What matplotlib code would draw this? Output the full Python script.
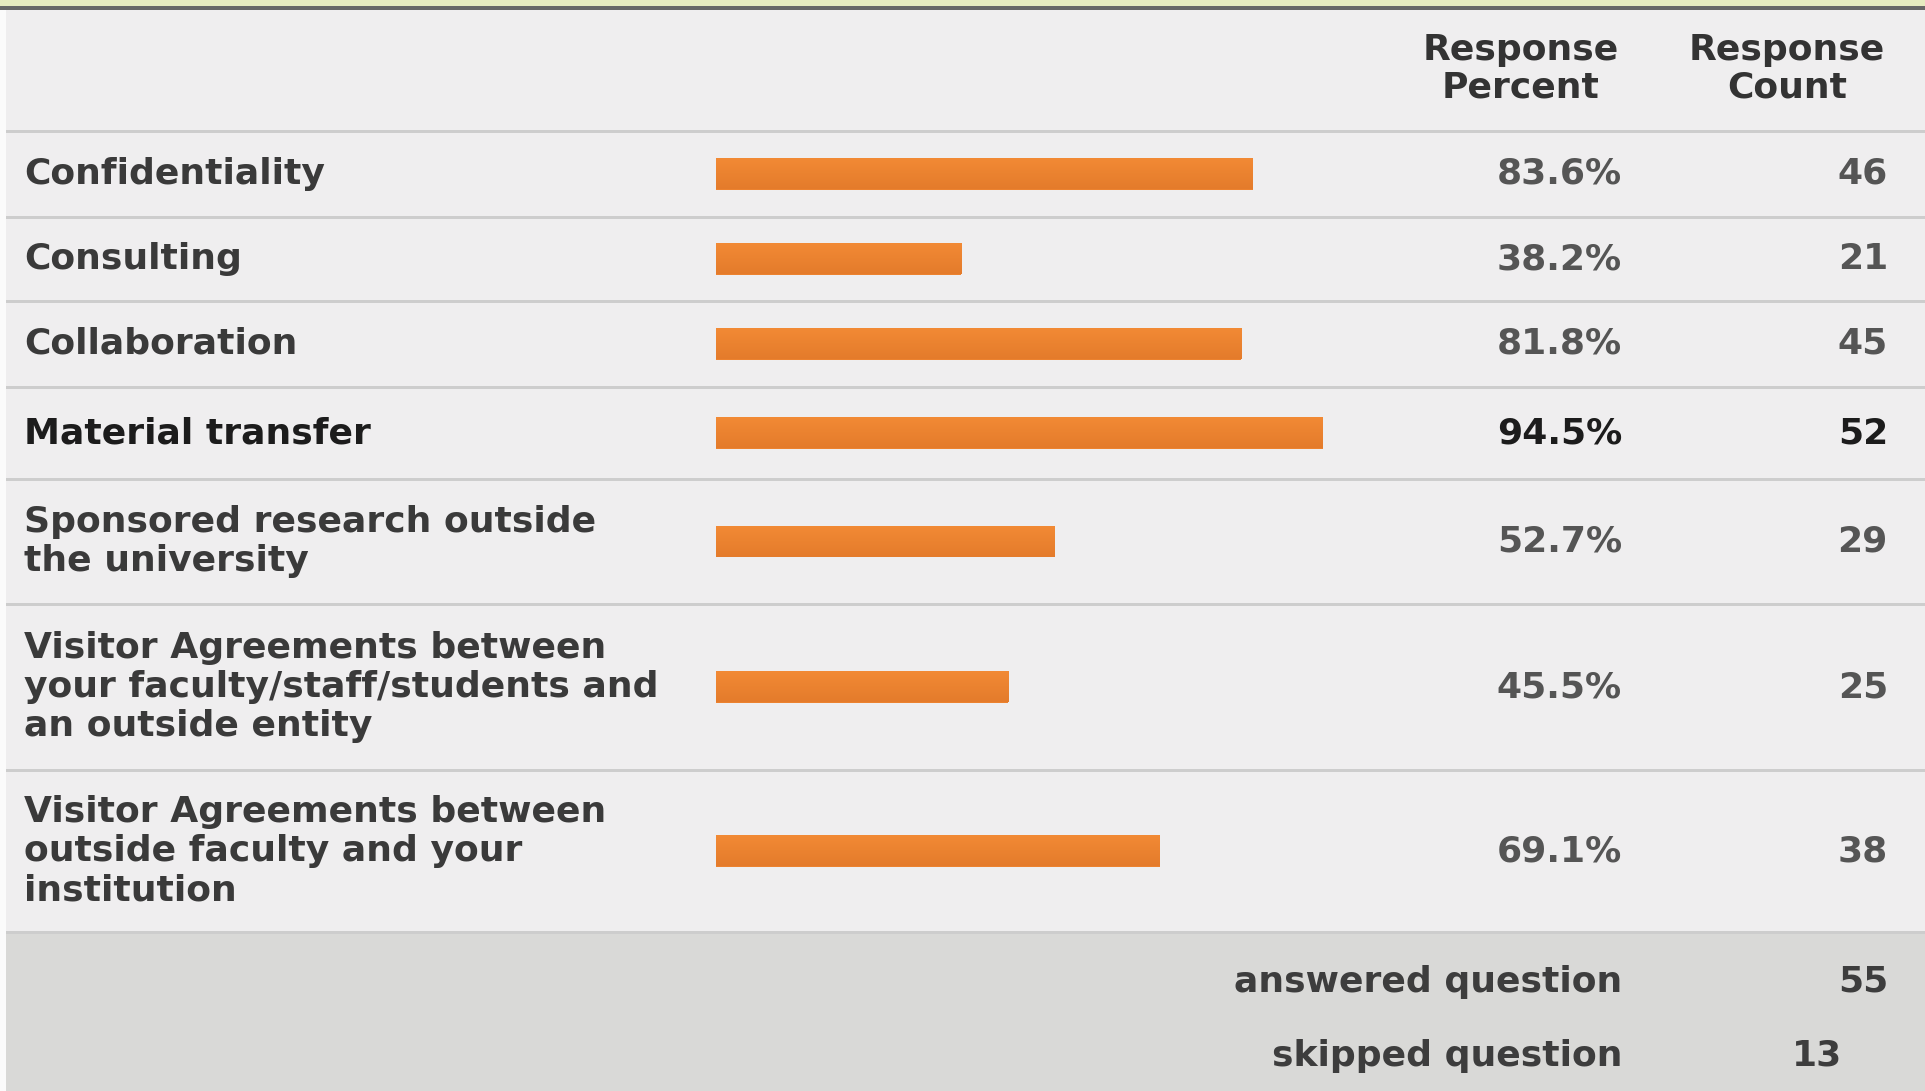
import matplotlib
matplotlib.use("Agg")
import matplotlib.pyplot as plt
import numpy as np
from matplotlib.patches import Rectangle
from matplotlib.colors import LinearSegmentedColormap

# ---------------- data ----------------
categories = [
    "Confidentiality",
    "Consulting",
    "Collaboration",
    "Material transfer",
    "Sponsored research outside\nthe university",
    "Visitor Agreements between\nyour faculty/staff/students and\nan outside entity",
    "Visitor Agreements between\noutside faculty and your\ninstitution",
]
percents = [83.6, 38.2, 81.8, 94.5, 52.7, 45.5, 69.1]
counts = [46, 21, 45, 52, 29, 25, 38]
highlight = [False, False, False, True, False, False, False]
header_labels = ["Response\nPercent", "Response\nCount"]
footer_labels = ["answered question", "skipped question"]
footer_values = [55, 13]

# ---------------- layout (pixels) ----------------
W, H = 1925, 1091
row_edges = [131, 217, 301, 387, 479, 604, 770, 932]
bar_left, bar_span = 716, 642
pct_right, cnt_right = 1622, 1888
FS = 26

BG = "#efeeef"
fig = plt.figure(figsize=(W / 100, H / 100), dpi=100)
fig.patch.set_facecolor(BG)
ax = fig.add_axes([0, 0, 1, 1])
ax.set_xlim(0, W)
ax.set_ylim(H, 0)
ax.axis("off")

# frame decorations
ax.add_patch(Rectangle((0, 0), W, 6, color="#e6ebc0", lw=0))
ax.add_patch(Rectangle((0, 6), W, 3.5, color="#676767", lw=0))
ax.add_patch(Rectangle((6, row_edges[-1]), W, H - row_edges[-1], color="#d9d9d7", lw=0))
for y in row_edges:
    ax.add_patch(Rectangle((6, y - 1.5), W, 3, color="#cdcdcd", lw=0))
ax.add_patch(Rectangle((0, 9.5), 6, H, color="#fbfbfb", lw=0))

# header
for lab, xc in zip(header_labels, [1521, 1787]):
    ax.text(xc, 69, lab, ha="center", va="center", multialignment="center",
            fontsize=FS, fontweight="bold", color="#333333", family="DejaVu Sans",
            linespacing=1.12)

centers = [(a + b) / 2 for a, b in zip(row_edges[:-1], row_edges[1:])]

# bars
bx = fig.add_axes([bar_left / W, 1 - row_edges[-1] / H, bar_span / W,
                   (row_edges[-1] - row_edges[0]) / H])
bx.patch.set_alpha(0)
bars = bx.barh(centers, percents, height=31, color="#ec822f", lw=0)
cmap = LinearSegmentedColormap.from_list("g", ["#f28a35", "#e47b2b"])
grad = np.linspace(0, 1, 64).reshape(-1, 1)
for b in bars:
    x0, y0, w, h = b.get_x(), b.get_y(), b.get_width(), b.get_height()
    bx.imshow(grad, extent=(x0, x0 + w, y0 + h, y0), origin="upper", aspect="auto",
              cmap=cmap, zorder=3, interpolation="bilinear")
bx.set_xlim(0, 100)
bx.set_ylim(row_edges[-1], row_edges[0])
bx.axis("off")

# labels & values
for lab, p, c, hl, yc in zip(categories, percents, counts, highlight, centers):
    col = "#1c1c1c" if hl else "#3a3a3a"
    vcol = "#1c1c1c" if hl else "#555555"
    ax.text(24, yc, lab, ha="left", va="center", fontsize=FS, fontweight="bold",
            color=col, family="DejaVu Sans")
    ax.text(pct_right, yc, f"{p:.1f}%", ha="right", va="center", fontsize=FS,
            fontweight="bold", color=vcol, family="DejaVu Sans")
    ax.text(cnt_right, yc, f"{c}", ha="right", va="center", fontsize=FS,
            fontweight="bold", color=vcol, family="DejaVu Sans")

# footer
for lab, v, yc, vx, vha in zip(footer_labels, footer_values, [982, 1056],
                               [cnt_right, 1817], ["right", "center"]):
    ax.text(pct_right, yc, lab, ha="right", va="center", fontsize=FS,
            fontweight="bold", color="#3d3d3d", family="DejaVu Sans")
    ax.text(vx, yc, f"{v}", ha=vha, va="center", fontsize=FS,
            fontweight="bold", color="#3d3d3d", family="DejaVu Sans")

fig.savefig("out.png", dpi=100, facecolor=BG)
